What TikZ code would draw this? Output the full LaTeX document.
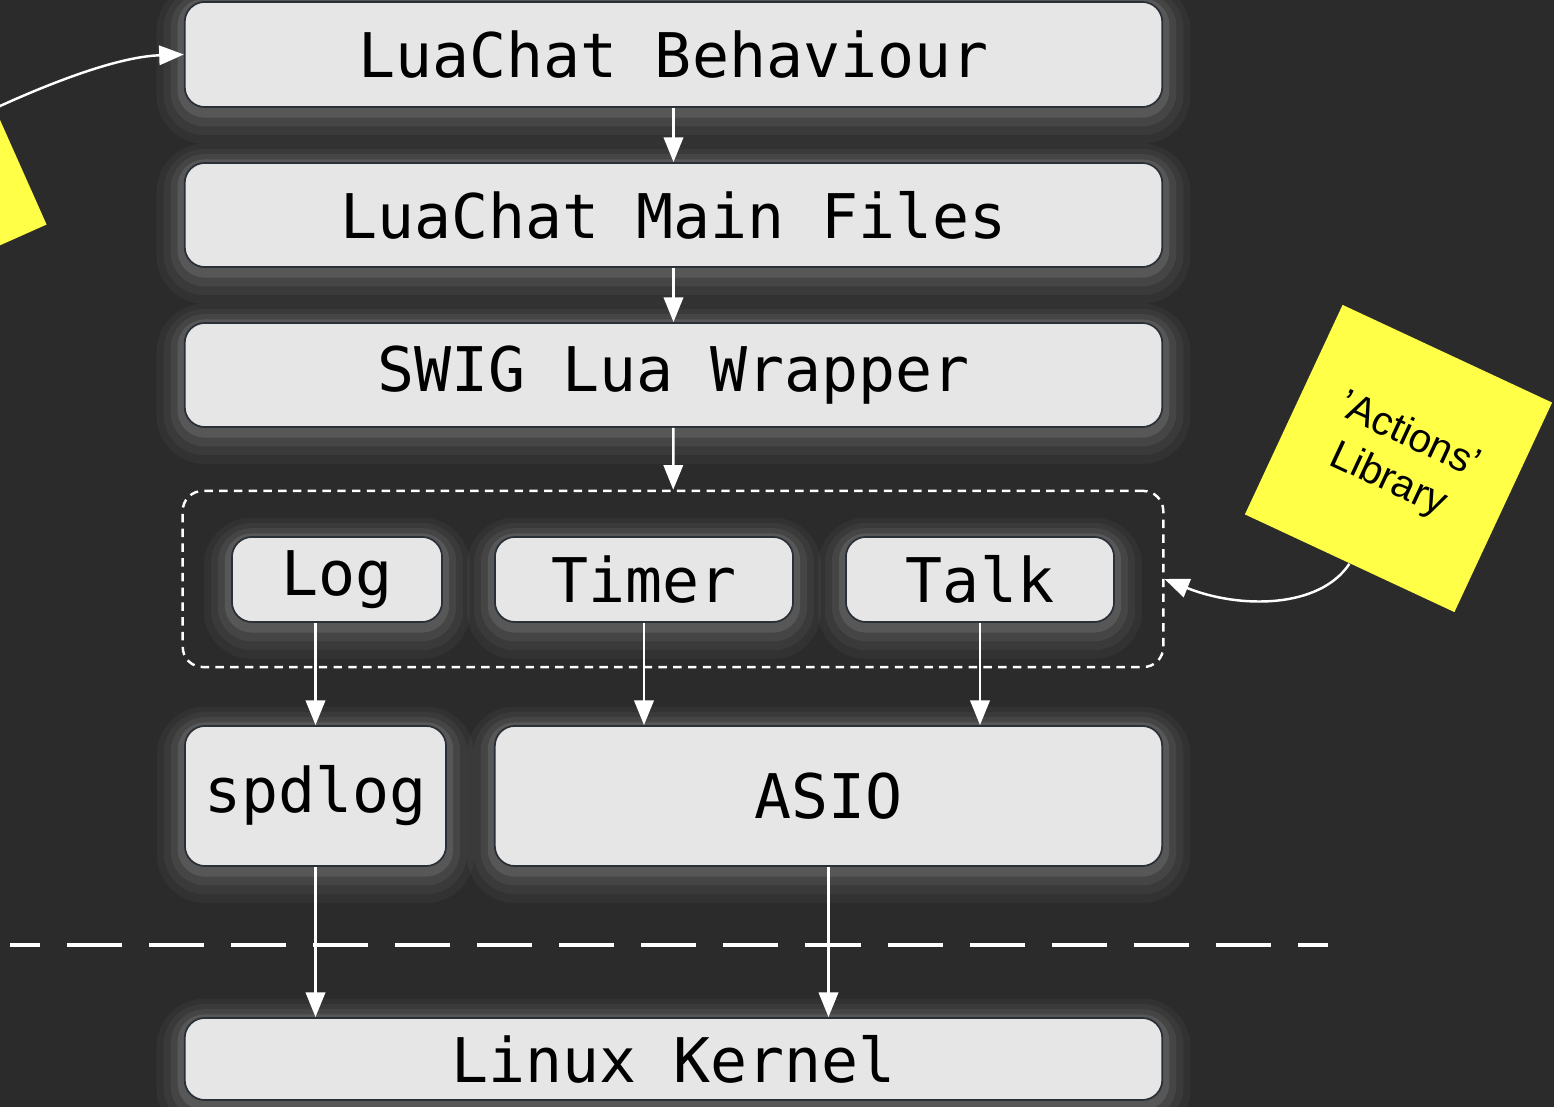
\documentclass[tikz,border=0pt]{standalone}
\usepackage{fontspec}
\setmonofont{DejaVu Sans Mono}
\setsansfont{Liberation Sans}
\usepackage{tikz}
\usetikzlibrary{arrows.meta,positioning,calc}

\definecolor{bgdark}{HTML}{2B2B2B}
\definecolor{boxfill}{HTML}{E6E6E6}
\definecolor{boxline}{HTML}{2A3038}
\definecolor{notey}{HTML}{FFFF47}

\begin{document}
\begin{tikzpicture}[x=0.01cm, y=-0.01cm,
        glow/.style={
            preaction={draw=white, line width=16pt, opacity=0.035, transform canvas={yshift=-2.5pt}},
            preaction={draw=white, line width=12pt, opacity=0.045, transform canvas={yshift=-2pt}},
            preaction={draw=white, line width=8pt, opacity=0.06, transform canvas={yshift=-1.5pt}},
            preaction={draw=white, line width=4pt, opacity=0.10, transform canvas={yshift=-1pt}}},
        layer/.style={rectangle, rounded corners=0.2cm, draw=boxline, fill=boxfill, line width=0.5pt,
            glow, inner sep=0pt, font=\ttfamily\fontsize{17.5}{20}\selectfont},
        group/.style={rectangle, rounded corners=0.2cm, draw=white, line width=0.7pt,
            dash pattern=on 2.4pt off 1.8pt},
        note/.style={rectangle, fill=notey, minimum size=2.31cm, inner sep=0pt, align=center,
            font=\sffamily\fontsize{11.5}{14}\selectfont},
        arr/.style={-{Triangle[length=7pt,width=5.5pt]}, draw=white, line width=0.7pt}
    ]
        \useasboundingbox (0,0) rectangle (1554,1107);
        \clip (0,0) rectangle (1554,1107);
        \fill[bgdark] (0,0) rectangle (1554,1107);

        % Layers
        \node[layer, minimum width=9.77cm, minimum height=1.05cm] (behaviour) at (673.5,54.5) {LuaChat Behaviour};
        \node[layer, minimum width=9.77cm, minimum height=1.04cm] (mainfiles) at (673.5,215) {LuaChat Main Files};
        \node[layer, minimum width=9.77cm, minimum height=1.04cm] (swig) at (673.5,375) {SWIG Lua Wrapper};

        % Actions library
        \node[group, minimum width=9.80cm, minimum height=1.76cm] (actions) at (673,579) {};
        \node[layer, minimum width=2.10cm, minimum height=0.85cm] (log) at (337,579.5) {Log};
        \node[layer, minimum width=2.98cm, minimum height=0.85cm] (timer) at (644,579.5) {Timer};
        \node[layer, minimum width=2.68cm, minimum height=0.85cm] (talk) at (980,579.5) {Talk};

        \node[layer, minimum width=2.61cm, minimum height=1.40cm] (spdlog) at (315.5,796) {spdlog};
        \node[layer, minimum width=6.67cm, minimum height=1.40cm] (asio) at (828.5,796) {ASIO};

        \node[layer, minimum width=9.77cm, minimum height=0.82cm] (kernel) at (673.5,1059) {Linux Kernel};

        % Sticky notes
        \node[note, rotate=24] (leftnote) at (-106,166) {};
        \node[note, rotate=-25] (actionsnote) at (1398.5,458.5) {'Actions'\\Library};

        % User space / kernel space
        \draw[white, line width=1.4pt, dash pattern=on 0.55cm off 0.27cm, dash phase=0.25cm] (10,945) -- (1328,945);

        % Arrows
        \draw[arr] (behaviour) -- (mainfiles);
        \draw[arr] (mainfiles) -- (swig);
        \draw[arr] (swig) -- (actions);
        \draw[arr] (log.south -| spdlog.north) -- (spdlog.north);
        \draw[arr] (timer.south) -- (timer.south |- asio.north);
        \draw[arr] (talk.south) -- (talk.south |- asio.north);
        \draw[arr] (spdlog.south) -- (spdlog.south |- kernel.north);
        \draw[arr] (asio.south) -- (asio.south |- kernel.north);
        \draw[arr] ($(leftnote.north east)!0.45!(leftnote.south east)$) .. controls +(70,-32) and +(-60,2) .. (behaviour.west);
        \draw[arr] (actionsnote.south) .. controls +(-30,45) and +(75,30) .. (actions.east);
    \end{tikzpicture}
\end{document}
